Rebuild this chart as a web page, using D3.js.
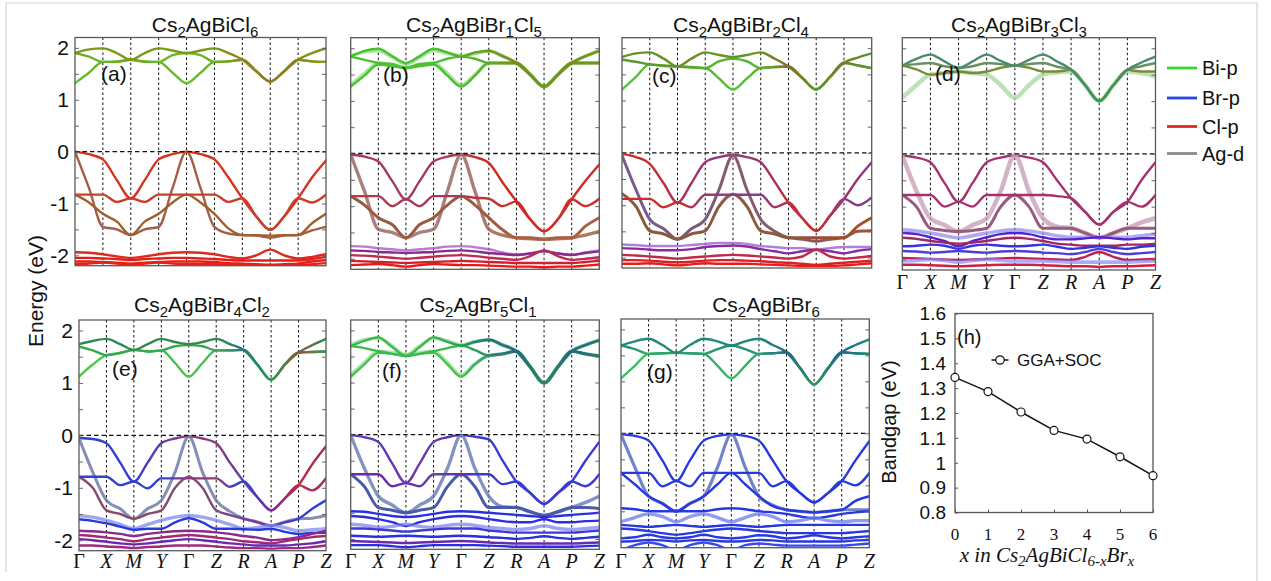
<!DOCTYPE html>
<html><head><meta charset="utf-8">
<script src="https://cdn.jsdelivr.net/npm/d3@7"></script>
<style>
body{margin:0;background:#fff;}
svg{display:block;font-family:"Liberation Sans",Arial,Helvetica,sans-serif;}
</style>
</head><body>
<svg id="fig" width="1271" height="581"></svg>
<script>
// ================= data =================
const kLabels = ["Γ","X","M","Y","Γ","Z","R","A","P","Z"];
// band energies are sampled at every high-symmetry point and half-way between them
const kSamples = [0,0.5,1,1.5,2,2.5,3,3.5,4,4.5,5,5.5,6,6.5,7,7.5,8,8.5,9];
const panelTitles = ["Cs2AgBiCl6","Cs2AgBiBr1Cl5","Cs2AgBiBr2Cl4","Cs2AgBiBr3Cl3","Cs2AgBiBr4Cl2","Cs2AgBr5Cl1","Cs2AgBiBr6"];
const panelTags = ["(a)","(b)","(c)","(d)","(e)","(f)","(g)"];
const energyTicks = [2,1,0,-1,-2];
const orbitals = ["Bi-p","Br-p","Cl-p","Ag-d"];

// band energies (eV), one row per band
const bandsA = [
 [1.32,1.52,1.73,1.73,1.77,1.73,1.73,1.52,1.32,1.52,1.73,1.74,1.77,1.55,1.35,1.55,1.77,1.74,1.73],
 [1.90,1.83,1.73,1.74,1.77,1.74,1.73,1.86,1.90,1.86,1.73,1.74,1.77,1.55,1.35,1.55,1.77,1.74,1.73],
 [1.90,1.97,1.99,1.90,1.77,1.90,1.99,1.95,1.90,1.95,1.99,1.90,1.77,1.55,1.35,1.55,1.77,1.90,1.99],
 [0.00,-0.05,-0.15,-0.55,-0.90,-0.55,-0.15,-0.05,0.00,-0.05,-0.15,-0.50,-0.90,-1.25,-1.51,-1.25,-0.90,-0.50,-0.17],
 [0.00,-0.70,-1.45,-1.50,-1.61,-1.50,-1.45,-0.70,0.00,-0.70,-1.45,-1.58,-1.61,-1.62,-1.66,-1.62,-1.61,-1.52,-1.45],
 [-0.83,-0.98,-1.20,-1.35,-1.61,-1.35,-1.20,-0.98,-0.83,-0.98,-1.20,-1.48,-1.61,-1.61,-1.62,-1.61,-1.61,-1.38,-1.20],
 [-0.83,-0.83,-0.83,-0.97,-0.90,-0.97,-0.83,-0.83,-0.83,-0.83,-0.83,-0.97,-0.90,-1.25,-1.51,-1.25,-0.90,-0.98,-0.83],
 [-1.94,-1.95,-1.98,-2.02,-2.05,-2.02,-1.98,-1.95,-1.94,-1.95,-1.98,-2.03,-2.06,-2.00,-1.89,-2.00,-2.06,-2.03,-1.98],
 [-2.05,-2.05,-2.06,-2.07,-2.09,-2.07,-2.06,-2.05,-2.05,-2.06,-2.07,-2.09,-2.10,-2.10,-2.10,-2.10,-2.10,-2.07,-2.03],
 [-2.12,-2.12,-2.13,-2.14,-2.16,-2.14,-2.13,-2.12,-2.12,-2.12,-2.13,-2.15,-2.16,-2.17,-2.18,-2.17,-2.16,-2.12,-2.09],
 [-2.17,-2.16,-2.14,-2.16,-2.19,-2.16,-2.14,-2.16,-2.17,-2.17,-2.17,-2.18,-2.19,-2.19,-2.19,-2.19,-2.19,-2.17,-2.15]
];
const bandsB = [
 [1.30,1.52,1.72,1.68,1.63,1.68,1.72,1.52,1.30,1.50,1.72,1.72,1.72,1.50,1.27,1.50,1.72,1.72,1.72],
 [1.27,1.48,1.69,1.66,1.63,1.66,1.69,1.48,1.27,1.48,1.72,1.72,1.72,1.50,1.27,1.50,1.72,1.72,1.72],
 [1.84,1.78,1.72,1.70,1.63,1.70,1.72,1.80,1.84,1.80,1.72,1.72,1.72,1.50,1.27,1.50,1.72,1.72,1.72],
 [1.86,1.93,1.96,1.83,1.70,1.83,1.96,1.90,1.86,1.90,1.95,1.85,1.72,1.50,1.27,1.50,1.72,1.85,1.95],
 [1.84,1.95,1.99,1.85,1.72,1.85,1.99,1.92,1.84,1.92,1.95,1.85,1.72,1.50,1.27,1.50,1.72,1.85,1.95],
 [-0.02,-0.06,-0.15,-0.52,-0.87,-0.52,-0.15,-0.06,-0.02,-0.07,-0.18,-0.55,-0.91,-1.25,-1.48,-1.25,-0.87,-0.52,-0.21],
 [-0.02,-0.72,-1.44,-1.50,-1.60,-1.50,-1.44,-0.72,-0.02,-0.72,-1.44,-1.55,-1.60,-1.62,-1.63,-1.62,-1.60,-1.55,-1.48],
 [-0.81,-0.98,-1.22,-1.35,-1.60,-1.35,-1.22,-0.98,-0.81,-0.98,-1.22,-1.45,-1.60,-1.60,-1.63,-1.60,-1.60,-1.38,-1.22],
 [-0.81,-0.81,-0.81,-1.00,-0.87,-1.00,-0.81,-0.81,-0.81,-0.84,-0.86,-1.00,-0.91,-1.25,-1.48,-1.25,-0.87,-1.00,-0.86],
 [-1.76,-1.77,-1.80,-1.82,-1.84,-1.82,-1.80,-1.77,-1.76,-1.78,-1.82,-1.88,-1.92,-1.90,-1.85,-1.90,-1.92,-1.88,-1.84],
 [-1.84,-1.85,-1.87,-1.88,-1.89,-1.88,-1.87,-1.85,-1.84,-1.86,-1.89,-1.91,-1.93,-1.90,-1.86,-1.90,-1.93,-1.89,-1.86],
 [-1.93,-1.94,-1.96,-1.98,-2.00,-1.98,-1.96,-1.94,-1.93,-1.95,-1.98,-2.00,-2.02,-1.95,-1.84,-1.95,-2.02,-2.00,-1.97],
 [-2.04,-2.05,-2.06,-2.07,-2.08,-2.07,-2.06,-2.05,-2.04,-2.05,-2.06,-2.07,-2.08,-2.08,-2.08,-2.08,-2.08,-2.06,-2.04],
 [-2.12,-2.11,-2.10,-2.12,-2.15,-2.12,-2.10,-2.11,-2.12,-2.12,-2.13,-2.14,-2.15,-2.15,-2.16,-2.15,-2.15,-2.13,-2.11]
];
const bandsC = [
 [1.21,1.45,1.69,1.66,1.65,1.63,1.62,1.42,1.21,1.42,1.62,1.64,1.65,1.43,1.21,1.45,1.72,1.67,1.62],
 [1.78,1.74,1.69,1.67,1.65,1.64,1.62,1.75,1.80,1.75,1.62,1.64,1.65,1.43,1.21,1.45,1.72,1.67,1.62],
 [1.83,1.90,1.92,1.80,1.65,1.80,1.92,1.87,1.83,1.87,1.92,1.80,1.65,1.43,1.21,1.45,1.72,1.82,1.90],
 [-0.02,-0.08,-0.21,-0.58,-0.95,-0.58,-0.18,-0.08,-0.04,-0.08,-0.18,-0.55,-0.95,-1.25,-1.49,-1.20,-0.88,-0.50,-0.18],
 [-0.05,-0.70,-1.27,-1.45,-1.65,-1.45,-1.27,-0.70,-0.05,-0.70,-1.27,-1.50,-1.62,-1.65,-1.69,-1.65,-1.62,-1.50,-1.49],
 [-0.78,-1.02,-1.49,-1.55,-1.65,-1.55,-1.49,-1.02,-0.79,-1.02,-1.49,-1.55,-1.62,-1.62,-1.62,-1.62,-1.62,-1.40,-1.24],
 [-0.88,-0.88,-0.88,-1.04,-0.95,-1.04,-0.80,-0.80,-0.80,-0.80,-0.80,-1.04,-0.95,-1.25,-1.49,-1.20,-0.88,-1.00,-0.85],
 [-1.75,-1.76,-1.78,-1.78,-1.78,-1.76,-1.74,-1.72,-1.72,-1.74,-1.78,-1.80,-1.82,-1.82,-1.85,-1.82,-1.80,-1.80,-1.80],
 [-1.82,-1.83,-1.85,-1.86,-1.86,-1.84,-1.80,-1.78,-1.77,-1.79,-1.84,-1.88,-1.92,-1.88,-1.85,-1.88,-1.92,-1.87,-1.84],
 [-1.95,-1.96,-1.98,-2.00,-2.02,-2.00,-1.98,-1.96,-1.95,-1.96,-1.98,-2.00,-2.02,-1.98,-1.85,-1.98,-2.02,-2.00,-1.97],
 [-2.05,-2.05,-2.06,-2.08,-2.09,-2.08,-2.06,-2.05,-2.05,-2.06,-2.07,-2.09,-2.10,-2.12,-2.14,-2.12,-2.10,-2.08,-2.06],
 [-2.12,-2.12,-2.11,-2.13,-2.15,-2.13,-2.11,-2.12,-2.12,-2.12,-2.13,-2.14,-2.15,-2.16,-2.16,-2.16,-2.15,-2.13,-2.11]
];
const bandsD = [
 [1.06,1.30,1.50,1.53,1.56,1.53,1.50,1.30,1.06,1.30,1.50,1.54,1.56,1.30,1.00,1.30,1.56,1.53,1.47],
 [1.67,1.60,1.50,1.53,1.56,1.53,1.56,1.63,1.67,1.63,1.56,1.56,1.59,1.30,1.00,1.30,1.59,1.56,1.56],
 [1.67,1.70,1.72,1.66,1.63,1.66,1.72,1.70,1.67,1.70,1.72,1.65,1.59,1.30,1.00,1.30,1.59,1.66,1.72],
 [1.67,1.80,1.88,1.75,1.63,1.75,1.88,1.76,1.67,1.78,1.88,1.75,1.59,1.30,1.00,1.30,1.59,1.73,1.84],
 [-0.03,-0.07,-0.16,-0.55,-0.91,-0.55,-0.16,-0.07,-0.03,-0.07,-0.16,-0.50,-0.84,-1.10,-1.34,-1.10,-0.91,-0.50,-0.16],
 [-0.03,-0.70,-1.22,-1.35,-1.47,-1.35,-1.22,-0.70,-0.03,-0.70,-1.22,-1.38,-1.41,-1.50,-1.59,-1.50,-1.41,-1.30,-1.22],
 [-0.78,-1.00,-1.41,-1.45,-1.47,-1.45,-1.41,-1.00,-0.78,-1.00,-1.41,-1.41,-1.41,-1.50,-1.59,-1.50,-1.41,-1.41,-1.41],
 [-0.78,-0.78,-0.78,-1.00,-0.91,-1.00,-0.78,-0.78,-0.78,-0.78,-0.78,-0.80,-0.84,-1.10,-1.34,-1.10,-0.91,-1.00,-0.78],
 [-1.44,-1.46,-1.50,-1.55,-1.59,-1.55,-1.50,-1.46,-1.44,-1.46,-1.50,-1.55,-1.58,-1.58,-1.58,-1.58,-1.58,-1.55,-1.52],
 [-1.50,-1.52,-1.58,-1.65,-1.75,-1.65,-1.58,-1.52,-1.50,-1.52,-1.58,-1.62,-1.62,-1.60,-1.58,-1.60,-1.62,-1.60,-1.60],
 [-1.59,-1.61,-1.65,-1.68,-1.70,-1.68,-1.65,-1.61,-1.59,-1.61,-1.65,-1.70,-1.72,-1.74,-1.74,-1.74,-1.72,-1.72,-1.70],
 [-1.75,-1.74,-1.72,-1.74,-1.80,-1.74,-1.72,-1.74,-1.75,-1.74,-1.72,-1.76,-1.80,-1.78,-1.75,-1.78,-1.80,-1.76,-1.74],
 [-1.84,-1.85,-1.87,-1.86,-1.84,-1.86,-1.87,-1.85,-1.84,-1.85,-1.87,-1.88,-1.90,-1.86,-1.80,-1.86,-1.90,-1.88,-1.86],
 [-1.97,-1.98,-1.99,-2.00,-2.01,-2.00,-1.99,-1.98,-1.97,-1.98,-1.99,-2.00,-2.01,-1.95,-1.86,-1.95,-2.01,-2.00,-1.99],
 [-2.03,-2.02,-2.00,-2.02,-2.05,-2.02,-2.00,-2.02,-2.03,-2.03,-2.03,-2.04,-2.05,-2.05,-2.05,-2.05,-2.05,-2.04,-2.03],
 [-2.10,-2.10,-2.11,-2.12,-2.13,-2.12,-2.11,-2.10,-2.10,-2.10,-2.11,-2.12,-2.13,-2.13,-2.14,-2.13,-2.13,-2.12,-2.11]
];
const bandsE = [
 [1.12,1.35,1.53,1.57,1.63,1.60,1.62,1.38,1.12,1.38,1.62,1.62,1.63,1.35,1.06,1.35,1.58,1.59,1.60],
 [1.69,1.62,1.53,1.57,1.63,1.60,1.62,1.70,1.72,1.70,1.62,1.62,1.63,1.35,1.06,1.35,1.58,1.59,1.60],
 [1.74,1.80,1.84,1.74,1.63,1.74,1.84,1.78,1.74,1.78,1.84,1.74,1.63,1.35,1.06,1.35,1.58,1.72,1.84],
 [-0.05,-0.07,-0.15,-0.52,-0.88,-0.52,-0.15,-0.06,-0.02,-0.06,-0.15,-0.52,-0.88,-1.18,-1.43,-1.20,-0.95,-0.55,-0.21],
 [-0.05,-0.70,-1.24,-1.40,-1.59,-1.40,-1.24,-0.70,-0.02,-0.70,-1.24,-1.45,-1.59,-1.65,-1.72,-1.65,-1.59,-1.58,-1.53],
 [-0.79,-1.00,-1.43,-1.50,-1.59,-1.50,-1.43,-1.00,-0.79,-1.00,-1.43,-1.52,-1.59,-1.66,-1.72,-1.66,-1.59,-1.40,-1.24],
 [-0.79,-0.79,-0.79,-0.95,-0.88,-1.01,-0.82,-0.82,-0.82,-0.82,-0.82,-0.98,-0.88,-1.18,-1.43,-1.20,-0.95,-1.05,-0.82],
 [-1.53,-1.56,-1.62,-1.70,-1.78,-1.70,-1.62,-1.56,-1.53,-1.56,-1.62,-1.70,-1.78,-1.76,-1.72,-1.76,-1.82,-1.80,-1.78],
 [-1.60,-1.63,-1.68,-1.74,-1.80,-1.78,-1.78,-1.66,-1.58,-1.66,-1.78,-1.78,-1.79,-1.80,-1.78,-1.84,-1.88,-1.86,-1.86],
 [-1.82,-1.83,-1.85,-1.88,-1.92,-1.88,-1.85,-1.83,-1.82,-1.83,-1.85,-1.88,-1.92,-1.95,-2.00,-1.98,-1.94,-1.88,-1.82],
 [-1.90,-1.92,-1.95,-1.98,-2.02,-1.98,-1.95,-1.92,-1.90,-1.92,-1.95,-1.98,-2.02,-2.04,-2.06,-2.02,-1.98,-1.94,-1.92],
 [-1.98,-2.00,-2.03,-2.06,-2.08,-2.06,-2.03,-2.00,-1.98,-2.00,-2.03,-2.06,-2.08,-2.10,-2.10,-2.10,-2.08,-2.06,-2.02],
 [-2.10,-2.10,-2.12,-2.13,-2.15,-2.13,-2.12,-2.10,-2.10,-2.10,-2.12,-2.14,-2.15,-2.15,-2.16,-2.15,-2.15,-2.13,-2.10]
];
const bandsF = [
 [1.14,1.38,1.60,1.57,1.53,1.57,1.60,1.38,1.14,1.36,1.52,1.55,1.60,1.30,0.99,1.30,1.60,1.55,1.51],
 [1.11,1.35,1.57,1.55,1.51,1.55,1.57,1.35,1.11,1.35,1.52,1.55,1.60,1.30,0.99,1.30,1.60,1.55,1.51],
 [1.70,1.66,1.60,1.55,1.51,1.55,1.60,1.66,1.71,1.62,1.52,1.55,1.60,1.30,0.99,1.30,1.60,1.55,1.51],
 [1.72,1.82,1.85,1.70,1.53,1.70,1.85,1.80,1.72,1.78,1.82,1.72,1.60,1.30,0.99,1.30,1.60,1.72,1.81],
 [1.70,1.80,1.87,1.68,1.51,1.68,1.87,1.78,1.71,1.78,1.82,1.72,1.60,1.30,0.99,1.30,1.60,1.72,1.81],
 [-0.01,-0.05,-0.14,-0.55,-0.93,-0.55,-0.14,-0.05,-0.01,-0.04,-0.09,-0.50,-0.90,-1.12,-1.33,-1.12,-0.90,-0.50,-0.14],
 [-0.01,-0.65,-1.18,-1.35,-1.50,-1.35,-1.18,-0.65,-0.01,-0.65,-1.18,-1.38,-1.40,-1.48,-1.55,-1.48,-1.40,-1.30,-1.18],
 [-0.76,-1.00,-1.40,-1.45,-1.50,-1.45,-1.40,-1.00,-0.76,-1.00,-1.40,-1.40,-1.40,-1.48,-1.55,-1.48,-1.40,-1.40,-1.42],
 [-0.76,-0.76,-0.76,-0.99,-0.93,-0.99,-0.76,-0.76,-0.76,-0.76,-0.76,-0.95,-0.90,-1.12,-1.33,-1.12,-0.90,-0.99,-0.76],
 [-1.47,-1.48,-1.52,-1.56,-1.58,-1.56,-1.52,-1.48,-1.47,-1.48,-1.50,-1.52,-1.54,-1.56,-1.58,-1.56,-1.54,-1.52,-1.50],
 [-1.56,-1.58,-1.62,-1.68,-1.75,-1.68,-1.62,-1.58,-1.56,-1.58,-1.62,-1.66,-1.68,-1.68,-1.62,-1.68,-1.68,-1.66,-1.65],
 [-1.72,-1.74,-1.78,-1.76,-1.72,-1.76,-1.78,-1.74,-1.72,-1.74,-1.78,-1.80,-1.82,-1.80,-1.75,-1.80,-1.82,-1.80,-1.78],
 [-1.80,-1.80,-1.82,-1.84,-1.86,-1.84,-1.82,-1.80,-1.80,-1.80,-1.84,-1.86,-1.88,-1.88,-1.88,-1.88,-1.88,-1.86,-1.84],
 [-1.94,-1.95,-1.96,-1.95,-1.94,-1.95,-1.96,-1.95,-1.94,-1.95,-1.97,-1.98,-2.00,-1.98,-1.95,-1.98,-2.00,-1.98,-1.96],
 [-2.04,-2.05,-2.06,-2.07,-2.08,-2.07,-2.06,-2.05,-2.04,-2.05,-2.07,-2.08,-2.09,-2.09,-2.09,-2.09,-2.09,-2.08,-2.07],
 [-2.12,-2.12,-2.12,-2.14,-2.16,-2.14,-2.12,-2.12,-2.12,-2.12,-2.13,-2.14,-2.15,-2.15,-2.15,-2.15,-2.15,-2.14,-2.13]
];
const bandsG = [
 [1.06,1.30,1.53,1.54,1.55,1.54,1.53,1.30,1.06,1.30,1.53,1.54,1.56,1.25,0.94,1.25,1.56,1.54,1.53],
 [1.69,1.62,1.53,1.54,1.55,1.54,1.53,1.62,1.69,1.62,1.53,1.54,1.56,1.25,0.94,1.25,1.56,1.54,1.53],
 [1.69,1.77,1.82,1.70,1.55,1.70,1.82,1.77,1.69,1.77,1.82,1.70,1.56,1.25,0.94,1.25,1.56,1.70,1.81],
 [-0.02,-0.05,-0.14,-0.52,-0.92,-0.52,-0.14,-0.05,-0.02,-0.05,-0.14,-0.52,-0.92,-1.15,-1.33,-1.15,-0.92,-0.52,-0.15],
 [-0.02,-0.65,-1.21,-1.35,-1.50,-1.35,-1.21,-0.65,-0.02,-0.65,-1.21,-1.38,-1.47,-1.50,-1.52,-1.50,-1.47,-1.47,-1.47],
 [-0.76,-0.98,-1.21,-1.35,-1.50,-1.35,-1.21,-0.98,-0.76,-0.98,-1.21,-1.40,-1.47,-1.50,-1.52,-1.50,-1.47,-1.30,-1.21],
 [-0.76,-0.76,-0.76,-1.02,-0.92,-1.02,-0.76,-0.76,-0.76,-0.76,-0.76,-1.02,-0.92,-1.15,-1.33,-1.15,-0.92,-1.00,-0.76],
 [-1.44,-1.46,-1.50,-1.50,-1.50,-1.50,-1.50,-1.46,-1.44,-1.46,-1.50,-1.52,-1.55,-1.60,-1.63,-1.60,-1.55,-1.52,-1.50],
 [-1.70,-1.62,-1.55,-1.60,-1.70,-1.60,-1.55,-1.62,-1.70,-1.62,-1.55,-1.60,-1.70,-1.68,-1.63,-1.68,-1.70,-1.68,-1.68],
 [-1.76,-1.78,-1.80,-1.78,-1.76,-1.78,-1.80,-1.78,-1.76,-1.78,-1.80,-1.78,-1.76,-1.76,-1.76,-1.76,-1.76,-1.76,-1.76],
 [-1.83,-1.85,-1.88,-1.92,-1.95,-1.92,-1.88,-1.85,-1.83,-1.85,-1.88,-1.90,-1.92,-1.92,-1.92,-1.92,-1.92,-1.90,-1.88],
 [-2.02,-2.00,-1.95,-2.00,-2.02,-2.00,-1.95,-2.00,-2.02,-2.00,-1.96,-1.98,-2.02,-2.00,-1.96,-2.00,-2.02,-2.00,-1.98],
 [-2.08,-2.07,-2.05,-2.06,-2.08,-2.06,-2.05,-2.07,-2.08,-2.07,-2.05,-2.06,-2.08,-2.08,-2.08,-2.08,-2.08,-2.06,-2.05],
 [-2.25,-2.15,-2.10,-2.15,-2.25,-2.15,-2.10,-2.15,-2.25,-2.15,-2.12,-2.14,-2.16,-2.16,-2.16,-2.16,-2.16,-2.14,-2.12]
];

// (h) band gap versus Br content
const brContent = [0,1,2,3,4,5,6];
const gapGGASOC = [1.343,1.286,1.204,1.130,1.095,1.024,0.948];
const gapTickValues = [0.8,0.9,1.0,1.1,1.2,1.3,1.4,1.5,1.6];
const gapTickLabels = ["0.8","0.9","1","1.1","1.2","1.3","1.4","1.5","1.6"];

// ================= styles =================
const C = {bi:"#36d636", br:"#2448e8", cl:"#e4281c", ag:"#8c8c8c"};
// colour of each band: one colour, or one colour per high-symmetry point
const olv = "#7a9a16", olb = "#8a7c1c";
const styleA = [
 {c:["#5ac82c","#6cac22","#78a01c","#6cac22","#5ac82c","#6cac22","#8a8a1c",olb,"#8a8a1c","#78a01c"]},
 {c:["#74a220","#60bc28","#78a01c","#60bc28","#66ba26","#66b226","#8a8a1c",olb,"#8a8a1c","#78a01c"]},
 {c:[olv,olv,olv,olv,olv,olv,"#8a8818",olb,"#8a8818",olv]},
 {c:"#d6321e"},
 {c:"#a45e46"},
 {c:"#a0602c"},
 {c:"#c8402a"},
 {c:"#dc2a1c"},{c:"#e0201a"},{c:"#e81c14"},{c:"#e4221a"}
];
const styleB = [
 {c:["#62d04a","#62d04a","#62d04a","#62d04a","#62d04a","#62c040","#6aa028","#6a9a1c","#6a9a1c","#6a9a1c"], w:3.6, o:0.55},
 {c:["#48c230","#48c230","#48c230","#48c230","#48c230","#58b028","#7a8a1c","#6a9a1c","#6a9a1c","#6a9a1c"]},
 {c:["#4cc030","#4cc030","#4cc030","#4cc030","#4cc030","#58b028","#7a8a1c","#6a9a1c","#6a9a1c","#6a9a1c"]},
 {c:["#62d04a","#62d04a","#62d04a","#62d04a","#62d04a","#6a9a1c","#6a9a1c","#6a9a1c","#6a9a1c","#6a9a1c"], w:3.6, o:0.55},
 {c:["#48c230","#48c230","#48c230","#48c230","#5aaa26","#6a9a1c","#7a8a1c","#6a9a1c","#7a8a1c","#6a9a1c"]},
 {c:["#a8385a","#a8385a","#a03a5a","#a8385a","#b83448","#d02a20","#cc2a22","#d42820","#cc2a22","#cc2a22"]},
 {c:["#9a6a66","#9a6a66","#9a6a66","#9a6a66","#9a6a66","#a06050","#a86040","#a86040","#a86040","#a86040"], w:3.4, o:0.85},
 {c:["#9a5a40","#9a5a40","#9a5a40","#9a5a40","#9a5a40","#a05a40","#a86040","#a86040","#a86040","#a86040"], w:3.0},
 {c:["#b83a44","#b83a44","#a8385a","#a8385a","#a8385a","#c8322a","#d02a20","#d42820","#c83028","#d02a20"]},
 {c:"#a85ac8", o:0.8},{c:"#8a2a8a"},{c:"#c02a50"},{c:"#d02030"},{c:"#ec1816"}
];
const styleC = [
 {c:["#50c83a","#5cb830","#64a42c","#5cb030","#50c83a","#5cb030","#8a6a2a","#5a9a2a","#6a9a2a","#5a9a2a"]},
 {c:["#5a9a2a","#5a9a2a","#5a9a2a","#5cb030","#58b834","#5cb030","#7a7a2a","#5a9a2a","#6a8a2a","#5a9a2a"]},
 {c:["#6a9224","#6a9224","#6a9224","#6a9224","#6a9224","#6a9224","#8a6a2a","#5a9a2a","#7a7a2a","#5a9a2a"]},
 {c:["#d42a24","#c82a30","#b03050","#9a3470","#8a3a7a","#9a3470","#c02a38","#d4281e","#a03064","#8a3a8a"]},
 {c:["#7a5a8a","#7a5a8a","#7a5a7a","#7a5a7a","#8a5a6a","#8a5a6a","#8a5a5a","#8a5a5a","#8a5a5a","#a8502a"], w:3},
 {c:["#8a5a40","#8a5a40","#8a5a40","#8a5a40","#9a5a4a","#8a5a40","#8a5a40","#9a4a3a","#a0502a","#a8502a"], w:3},
 {c:["#d42a24","#d42a24","#c83030","#9a3a6a","#8a3a8a","#8a3a8a","#c03040","#d42820","#8a3a8a","#8a3a8a"]},
 {c:"#9a60d0", o:0.8},{c:"#8a2aa0"},{c:"#c02a48"},{c:"#d82028"},{c:"#ee1a16"}
];
const styleD = [
 {c:"#a8d8a0", w:4.5, o:0.75},
 {c:["#7a8a3a","#7a8a3a","#7a8a3a","#7a8a3a","#7a8a3a","#7a8a3a","#7a8a3a","#48a040","#7a8a3a","#7a8a3a"]},
 {c:["#6a9060","#6a9060","#6a9060","#6a9060","#6a9060","#6a9060","#6a9060","#48a040","#6a9060","#6a9060"]},
 {c:["#4a8a72","#4a8a72","#4a8a72","#4a8a72","#4a8a72","#4a8a72","#4a8a72","#3a9a50","#4a8a72","#4a8a72"]},
 {c:"#a8306e"},
 {c:"#c8a0b8", w:4.5, o:0.8},
 {c:"#9a5a80", w:3},
 {c:"#a8306e"},
 {c:"#8a88e8", w:3.6, o:0.7},{c:"#5a20d0"},{c:"#a02860"},{c:"#3a30e0"},{c:"#4a40d8"},{c:"#c02050"},{c:"#8a88ee", w:3.6, o:0.7},{c:"#d02040"}
];
const styleE = [
 {c:["#4cc84c","#4cc84c","#3cb850","#3cb850","#4cc84c","#3cb850","#2a7a78","#2a9a58","#8a5a3a","#3a9a50"]},
 {c:["#3aa850","#3aa850","#3aa850","#3aa850","#3aa850","#3aa850","#2a7a78","#2a9a58","#8a5a3a","#3a9a50"]},
 {c:["#2f8a50","#2f8a50","#2f8a50","#2f8a50","#2f8a50","#2f8a50","#2a7a78","#2a9a58","#8a5a3a","#2f8a50"]},
 {c:["#3040d0","#3040d0","#3040d0","#6a3aa0","#8a3a80","#8a3a80","#6040a0","#7a30a0","#c02a40","#a03060"]},
 {c:"#707aa8", w:3, o:0.85},
 {c:["#8a4a6a","#8a4a6a","#8a4a6a","#8a4a6a","#8a4a6a","#7a4a7a","#7a40a0","#7a30a0","#3040d0","#3040d0"]},
 {c:["#3040d0","#3040d0","#3040d0","#3040d0","#8a3a80","#8a3a80","#3040d0","#7a30a0","#c02a40","#a03060"]},
 {c:"#7a88f0", w:3.4, o:0.75},{c:"#2a3ad8"},{c:"#8a2a8a"},{c:"#a02a70"},{c:"#6a2ab0"},{c:"#a02a80"}
];
const styleF = [
 {c:["#70d070","#70d070","#70d070","#70d070","#70d070","#3a9a70","#1f7a6a","#2a8a5a","#1f7a6a","#1f7a6a"], w:3.6, o:0.6},
 {c:["#48c250","#48c250","#48c250","#48c250","#48c250","#3a9a70","#1f6a7a","#2a8a5a","#1f6a7a","#1f7a6a"]},
 {c:["#3cb84c","#3cb84c","#3cb84c","#3cb84c","#3cb84c","#2a8a6a","#1f6a7a","#2a8a5a","#1f6a7a","#1f7a6a"]},
 {c:["#70d070","#70d070","#70d070","#70d070","#70d070","#1f7a6a","#1f7a6a","#2a8a5a","#1f7a6a","#1f7a6a"], w:3.6, o:0.6},
 {c:["#3cb84c","#3cb84c","#3cb84c","#3cb84c","#2a9a5a","#1f7a6a","#1f6a7a","#2a8a5a","#1f6a7a","#1f7a6a"]},
 {c:["#5a3ac0","#5a3ac0","#6a3aa8","#6a3aa8","#4a3ac8","#3a3ad8","#3a3ad8","#3a3ad8","#3a3ad8","#3a3ad8"]},
 {c:"#7080b8", w:3.4, o:0.85},
 {c:"#4a5aa8", w:3},
 {c:["#6a2ab0","#6a2ab0","#6a2ab0","#5a4a9a","#6a2ab0","#3a3ad8","#3a3ad8","#3a3ad8","#3a3ad8","#3a3ad8"]},
 {c:"#2a30e0"},{c:"#2a30e0"},{c:"#7a7aee", w:3.4, o:0.7},{c:"#3a3ad8"},{c:"#2a30e0"},{c:"#6a2ab0"},{c:"#2a30e0"}
];
const styleG = [
 {c:["#3ac05a","#3ac05a","#2aa070","#2aa070","#3ac05a","#2aa070","#1f6a8a","#2a9a5a","#1f6a8a","#1f8a78"]},
 {c:["#1f8a78","#2ab060","#2aa070","#2aa070","#1f8a78","#2aa070","#1f6a8a","#2a9a5a","#1f6a8a","#1f8a78"]},
 {c:["#1f8a78","#1f8a78","#1f8a78","#1f8a78","#1f8a78","#1f8a78","#1f6a8a","#2a9a5a","#1f6a8a","#1f8a78"]},
 {c:"#2838e0"},
 {c:"#5a70c0", w:3.2, o:0.85},
 {c:"#2838e0"},
 {c:"#2838e0"},
 {c:"#2838e0"},{c:"#6a7aee", w:3.4, o:0.75},{c:"#2838e0"},{c:"#2838e0"},{c:"#2838e0"},{c:"#2838e0"},{c:"#3a48e8"}
];

// ================= layout =================
const panels = [
 {bands:bandsA, style:styleA, box:[75,326,37.5,265.7], title:[205,31.5], tag:[101,1.5], yLabels:true, kAxis:false},
 {bands:bandsB, style:styleB, box:[350.7,599.3,37.7,269.3], title:[474,31.5], tag:[383,1.5], yLabels:false, kAxis:false},
 {bands:bandsC, style:styleC, box:[622,871.7,37.7,268], title:[741,31.5], tag:[652,1.47], yLabels:false, kAxis:false},
 {bands:bandsD, style:styleD, box:[902.3,1155.5,37.7,270], title:[1019,31.5], tag:[935,1.53], yLabels:false, kAxis:true},
 {bands:bandsE, style:styleE, box:[79,326,320,550.7], title:[202,312], tag:[112,1.27], yLabels:true, kAxis:true},
 {bands:bandsF, style:styleF, box:[350.7,599.3,320,549.3], title:[478,312], tag:[382,1.24], yLabels:false, kAxis:true},
 {bands:bandsG, style:styleG, box:[621,869.3,319,547.7], title:[766,312], tag:[647,1.2], yLabels:false, kAxis:true}
];

const svg = d3.select("#fig");
const defs = svg.append("defs");

// outer frame of the figure
svg.append("path").attr("d","M6,572 V3 H1257 V581")
  .attr("fill","none").attr("stroke","#d2d2d2").attr("stroke-width",1.2);

const bandLine = (x, y) => d3.line().x((d,j)=>x(kSamples[j])).y(d=>y(d)).curve(d3.curveMonotoneX);

// chemical formula: digit runs are set as subscripts
function subscriptText(sel, str, big, small, shift){
  let lowered = false;
  sel.attr("font-size", big);
  str.match(/\d+|[^\d]+/g).forEach(r=>{
    const isSub = /^\d+$/.test(r);
    const dy = isSub ? (lowered ? 0 : shift) : (lowered ? -shift : 0);
    lowered = isSub;
    sel.append("tspan").text(r).attr("font-size", isSub ? small : big).attr("dy", dy);
  });
}

panels.forEach((p, i) => {
  const [x0,x1,y0,y1] = p.box;
  const x = d3.scaleLinear().domain([0,9]).range([x0,x1]);
  const y = d3.scaleLinear().domain([-2.2,2.2]).range([y1,y0]);
  const g = svg.append("g");
  const clip = "clip"+i;
  defs.append("clipPath").attr("id",clip).append("rect")
    .attr("x",x0).attr("y",y0).attr("width",x1-x0).attr("height",y1-y0);

  // high-symmetry k-point separators
  g.append("g").selectAll("line").data(d3.range(1,9)).join("line")
    .attr("x1",d=>x(d)).attr("x2",d=>x(d)).attr("y1",y0).attr("y2",y1)
    .attr("stroke","#111").attr("stroke-width",1).attr("stroke-dasharray","2.5,2.5");

  // bands
  const bg = g.append("g").attr("clip-path",`url(#${clip})`);
  const line = bandLine(x,y);
  p.bands.forEach((e,b)=>{
    const st = p.style[b];
    let stroke = st.c;
    if(Array.isArray(st.c)){
      const id = `grad${i}_${b}`;
      const gr = defs.append("linearGradient").attr("id",id).attr("gradientUnits","userSpaceOnUse")
        .attr("x1",x(0)).attr("x2",x(9)).attr("y1",0).attr("y2",0);
      st.c.forEach((c,k)=>gr.append("stop").attr("offset",k/9).attr("stop-color",c));
      stroke = `url(#${id})`;
    }
    bg.append("path").attr("d",line(e)).attr("fill","none")
      .attr("stroke",stroke).attr("stroke-width",st.w||2.4)
      .attr("stroke-opacity",st.o||1).attr("stroke-linecap","round");
  });

  // Fermi level
  g.append("line").attr("x1",x0).attr("x2",x1).attr("y1",y(0)).attr("y2",y(0))
    .attr("stroke","#111").attr("stroke-width",1.4).attr("stroke-dasharray","4.5,3");

  // frame and inward ticks
  const tickVals = [-2,-1.5,-1,-0.5,0,0.5,1,1.5,2];
  g.append("g").attr("transform",`translate(${x0},0)`)
    .call(d3.axisRight(y).tickValues(tickVals).tickSize(4).tickFormat(""))
    .call(a=>{a.select(".domain").remove(); a.selectAll("line").attr("stroke","#666");});
  g.append("g").attr("transform",`translate(${x1},0)`)
    .call(d3.axisLeft(y).tickValues(tickVals).tickSize(4).tickFormat(""))
    .call(a=>{a.select(".domain").remove(); a.selectAll("line").attr("stroke","#666");});
  g.append("rect").attr("x",x0).attr("y",y0).attr("width",x1-x0).attr("height",y1-y0)
    .attr("fill","none").attr("stroke","#5a5a5a").attr("stroke-width",1.3);

  if(p.yLabels){
    g.selectAll("text.yl").data(energyTicks).join("text").attr("class","yl")
      .attr("x",x0-6).attr("y",d=>y(d)).attr("dy","0.36em")
      .attr("text-anchor","end").attr("font-size",21).attr("fill","#111")
      .text(d=>String(d));
  }
  if(p.kAxis){
    g.selectAll("text.kl").data(kLabels).join("text").attr("class","kl")
      .attr("x",(d,k)=>x(k)).attr("y",i===3?289:568)
      .attr("text-anchor","middle").attr("font-size",20)
      .attr("font-family","'Liberation Serif','Times New Roman',serif")
      .attr("font-style",d=>d==="Γ"?"normal":"italic").attr("fill","#111")
      .text(d=>d);
  }
  // title with subscripts
  const t = g.append("text").attr("x",p.title[0]).attr("y",p.title[1])
    .attr("text-anchor","middle").attr("fill","#111");
  subscriptText(t, panelTitles[i], 21, 15, 5);
  // panel tag
  g.append("text").attr("x",p.tag[0]).attr("y",y(p.tag[1])).attr("dy","0.36em")
    .attr("font-size",21).attr("fill","#111").text(panelTags[i]);
});

// shared energy axis title
svg.append("text").attr("transform","translate(35,291) rotate(-90)")
  .attr("text-anchor","middle").attr("dy","0.36em").attr("font-size",21).attr("fill","#111")
  .text("Energy (eV)");

// orbital legend
const legColours = [C.bi, C.br, C.cl, C.ag];
const legY = [68, 98, 126.5, 153.5];
const leg = svg.append("g");
orbitals.forEach((o,j)=>{
  leg.append("line").attr("x1",1167).attr("x2",1197).attr("y1",legY[j]).attr("y2",legY[j])
    .attr("stroke",legColours[j]).attr("stroke-width",2.8);
  leg.append("text").attr("x",1202).attr("y",legY[j]).attr("dy","0.36em")
    .attr("font-size",20).attr("fill","#111").text(o);
});

// ===== (h) band gap =====
const hx = d3.scaleLinear().domain([0,6]).range([955,1153]);
const hy = d3.scaleLinear().domain([0.8,1.6]).range([512.5,313.5]);
const h = svg.append("g");
h.append("g").attr("transform","translate(955,0)")
  .call(d3.axisRight(hy).tickValues(gapTickValues).tickSize(3).tickFormat(""))
  .call(a=>{a.select(".domain").remove(); a.selectAll("line").attr("stroke","#555");});
h.append("g").attr("transform","translate(0,512.5)")
  .call(d3.axisTop(hx).tickValues(brContent).tickSize(3).tickFormat(""))
  .call(a=>{a.select(".domain").remove(); a.selectAll("line").attr("stroke","#555");});
h.append("rect").attr("x",955).attr("y",313.5).attr("width",198).attr("height",199)
  .attr("fill","none").attr("stroke","#555").attr("stroke-width",1.3);
h.selectAll("text.gy").data(gapTickValues).join("text").attr("class","gy")
  .attr("x",946).attr("y",d=>hy(d)).attr("dy","0.36em").attr("text-anchor","end")
  .attr("font-size",19).attr("fill","#111").text((d,j)=>gapTickLabels[j]);
h.selectAll("text.gx").data(brContent).join("text").attr("class","gx")
  .attr("x",d=>hx(d)).attr("y",540).attr("text-anchor","middle")
  .attr("font-family","'Liberation Serif','Times New Roman',serif")
  .attr("font-size",17).attr("fill","#111").text(d=>String(d));
h.append("path").datum(gapGGASOC)
  .attr("d",d3.line().x((d,j)=>hx(brContent[j])).y(d=>hy(d)))
  .attr("fill","none").attr("stroke","#111").attr("stroke-width",1.5);
h.selectAll("circle").data(gapGGASOC).join("circle")
  .attr("cx",(d,j)=>hx(brContent[j])).attr("cy",d=>hy(d)).attr("r",4)
  .attr("fill","#fff").attr("stroke","#111").attr("stroke-width",1.2);
h.append("text").attr("x",957).attr("y",337).attr("dy","0.36em")
  .attr("font-size",20).attr("fill","#111").text("(h)");
// legend
h.append("line").attr("x1",991.5).attr("x2",1008.5).attr("y1",360).attr("y2",360)
  .attr("stroke","#111").attr("stroke-width",1.5);
h.append("circle").attr("cx",1000).attr("cy",360).attr("r",4.2)
  .attr("fill","#fff").attr("stroke","#111").attr("stroke-width",1.2);
h.append("text").attr("x",1017).attr("y",360).attr("dy","0.36em")
  .attr("font-size",17).attr("fill","#111").text("GGA+SOC");
// axis titles
h.append("text").attr("transform","translate(889,422) rotate(-90)")
  .attr("text-anchor","middle").attr("dy","0.36em").attr("font-size",20).attr("fill","#111")
  .text("Bandgap (eV)");
const xt = h.append("text").attr("x",1047).attr("y",562).attr("text-anchor","middle")
  .attr("font-family","'Liberation Serif','Times New Roman',serif").attr("font-style","italic")
  .attr("font-size",21).attr("fill","#111");
[["x in Cs",21,0],["2",15,4],["AgBiCl",21,-4],["6-x",15,4],["Br",21,-4],["x",15,4]].forEach(r=>{
  xt.append("tspan").text(r[0]).attr("font-size",r[1]).attr("dy",r[2]);
});
</script>
</body></html>
